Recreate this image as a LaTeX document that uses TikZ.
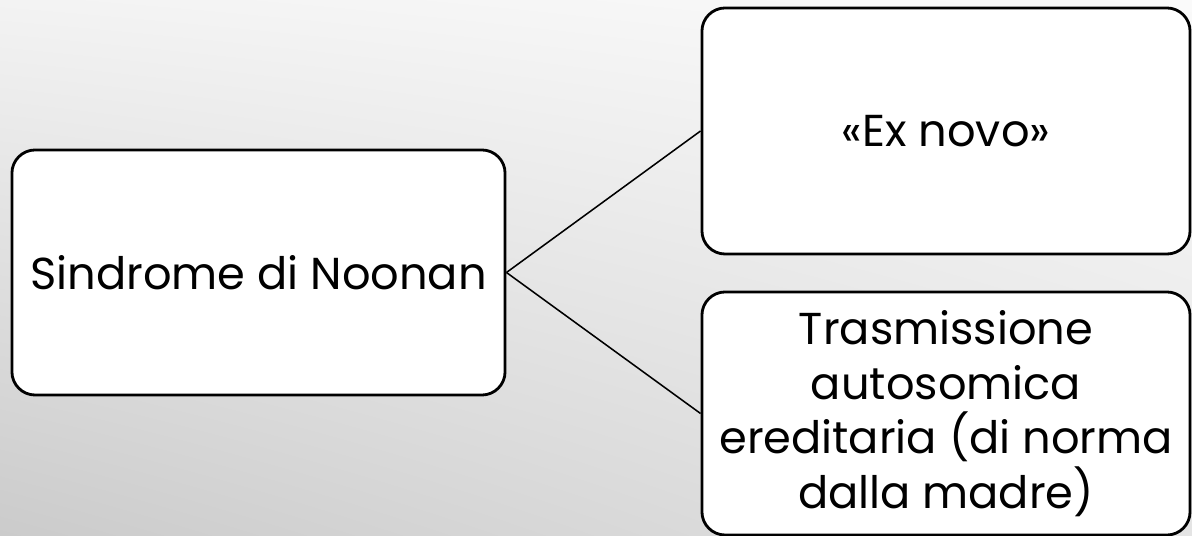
\documentclass[tikz,border=0pt]{standalone}
\usepackage{fontspec}
\usetikzlibrary{shadings}
\newfontfamily\boxfont{Poppins}
\definecolor{bgUL}{HTML}{F3F3F3}
\definecolor{bgUR}{HTML}{FAFAFA}
\definecolor{bgLL}{HTML}{CBCBCB}
\definecolor{bgLR}{HTML}{E4E4E4}
\begin{document}
\begin{tikzpicture}[
        x=0.025cm,
        y=-0.025cm,
        line join=round,
        % 框样式
        box/.style={draw=black, line width=2pt, fill=white, rounded corners=0.58cm,
            inner sep=0pt, align=center,
            font=\boxfont\fontsize{31.8}{38.8}\selectfont},
        link/.style={line width=1.1pt},
    ]

    % 背景（渐变）
    \shade[upper left=bgUL, upper right=bgUR, lower left=bgLL, lower right=bgLR]
        (0,0) rectangle (1192,536);
    \useasboundingbox (0,0) rectangle (1192,536);

    % 定义框的中心
    \coordinate (Cs) at (258.5,272.5);
    \coordinate (Cn) at (946,131);
    \coordinate (Ct) at (946,413.5);

    % 三个框
    \node[box, minimum width=12.325cm, minimum height=6.125cm] (sindrome) at (Cs)
        {Sindrome di Noonan};
    \node[box, minimum width=12.2cm, minimum height=6.15cm] (exnovo) at (Cn)
        {«Ex novo»};
    \node[box, minimum width=12.2cm, minimum height=6.075cm] (trasm) at (Ct)
        {Trasmissione\\autosomica\\ereditaria (di norma\\dalla madre)};

    % 连线
    \draw[link] (sindrome.east) -- (exnovo.west);
    \draw[link] (sindrome.east) -- (trasm.west);
\end{tikzpicture}
\end{document}
